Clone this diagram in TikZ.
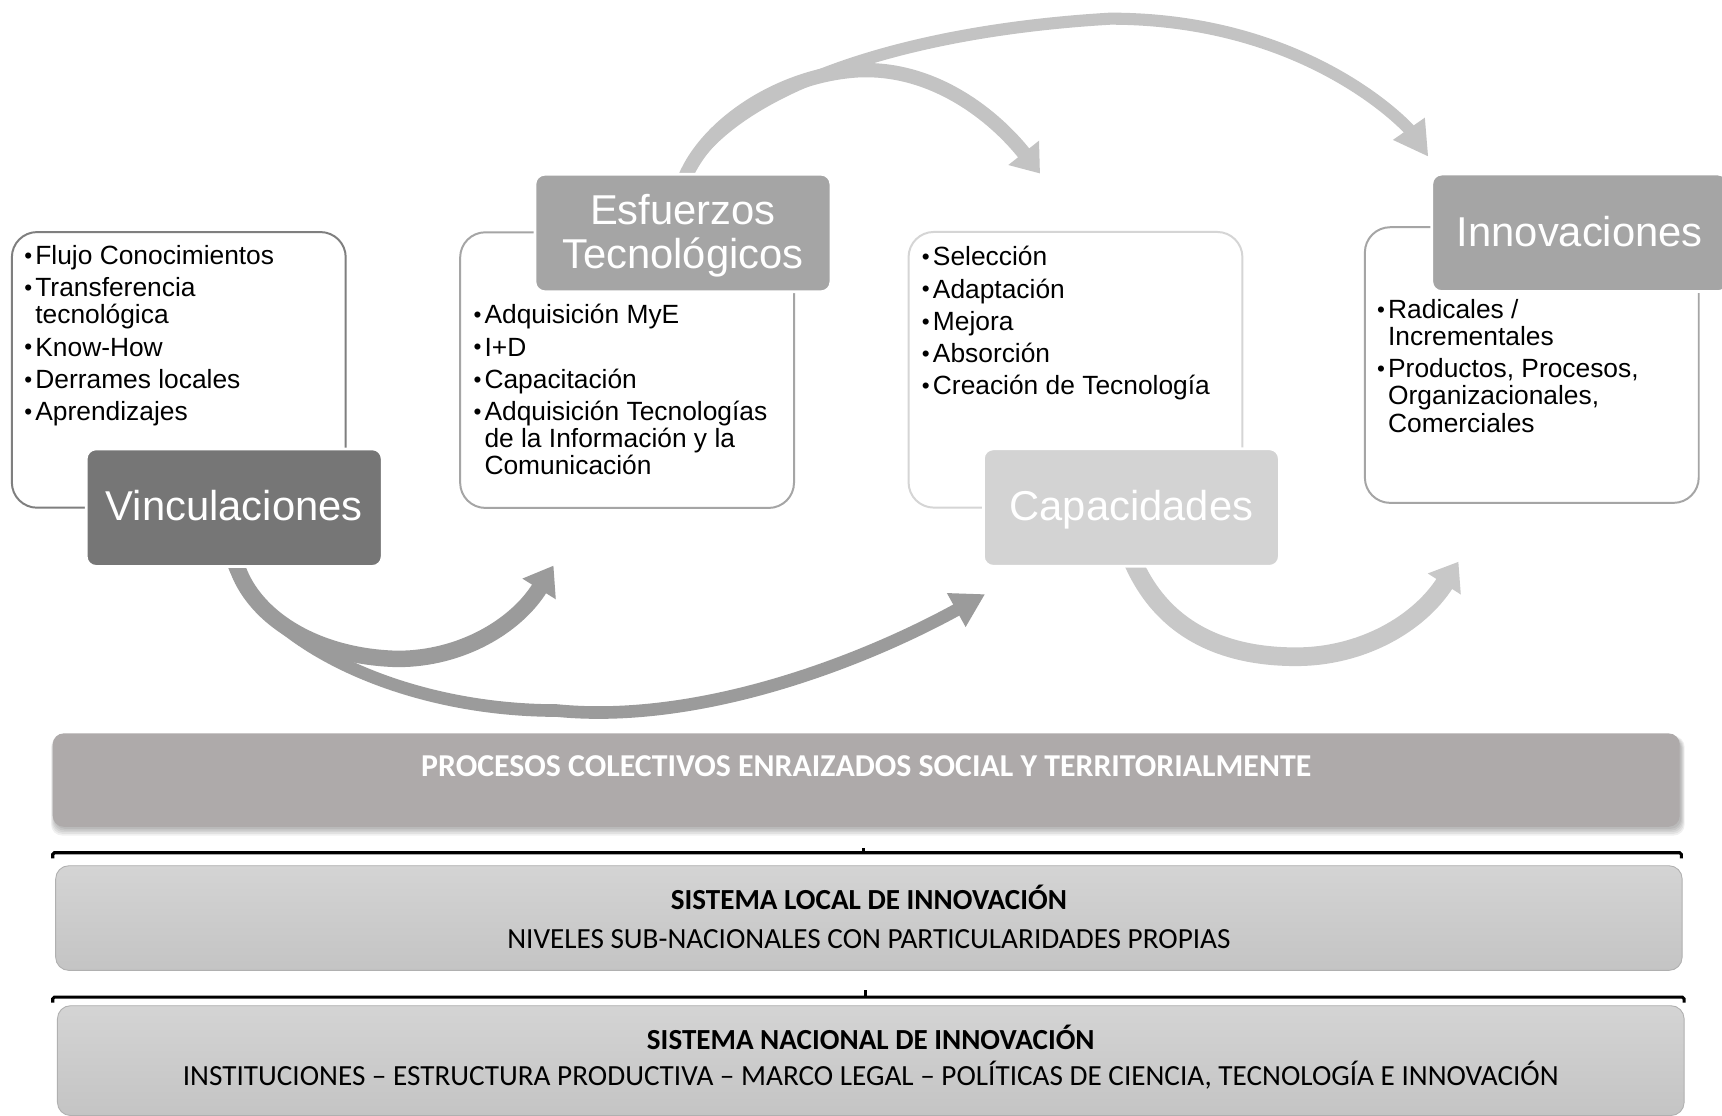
\documentclass[tikz,border=0pt]{standalone}
\usepackage{fontspec}
\setmainfont{Liberation Sans}
\newfontfamily\calibri{Carlito}
\usetikzlibrary{arrows.meta}
\definecolor{vincF}{HTML}{767676}
\definecolor{esfF}{HTML}{A5A5A5}
\definecolor{capF}{HTML}{D3D3D3}
\definecolor{vincL}{HTML}{7F7F7F}
\definecolor{esfL}{HTML}{A5A5A5}
\definecolor{capL}{HTML}{D5D5D5}
\definecolor{arrD}{HTML}{9B9B9B}
\definecolor{arrU}{HTML}{C3C3C3}
\definecolor{arrC}{HTML}{C8C8C8}
\definecolor{procF}{HTML}{AEAAAA}
\definecolor{sysT}{HTML}{D4D4D4}
\definecolor{sysB}{HTML}{C4C4C4}
\definecolor{sysL}{HTML}{B0B0B0}
\newlength\bulw
\setlength\bulw{10.2pt}
\newcommand\nl{\hfil\break}
\newcommand\bli[1]{\par\noindent\hangindent=\bulw\hangafter=1\makebox[\bulw][l]{\hspace{0.2pt}\raisebox{1.0pt}{\fontsize{20.5}{20.5}\selectfont•}}#1}
\newcommand\blist[1]{\parbox[t]{320pt}{\fontsize{24}{24.8}\selectfont\setlength\parskip{4.4pt}\rightskip=0pt plus 1fil\relax #1}}
\begin{document}
\begin{tikzpicture}[x=1pt,y=-1pt,
  outl/.style={draw, line width=1.8pt, fill=white, rounded corners=23pt,
    minimum width=304pt, minimum height=251pt, inner sep=0pt},
  ttlbox/.style={draw=white, line width=2.5pt, rounded corners=9pt,
    minimum width=269.5pt, minimum height=107pt, inner sep=0pt},
  ttl/.style={text=white, font=\fontsize{38}{40.3}\selectfont, inner sep=0pt, anchor=base},
  lst/.style={anchor=base west, inner sep=0pt},
  blk/.style={line width=#1},
  sysbox/.style={draw=sysL, line width=0.8pt, top color=sysT, bottom color=sysB,
    rounded corners=12pt, inner sep=0pt},
  btit/.style={font=\calibri\bfseries\fontsize{26.5}{28}\selectfont, anchor=base, inner sep=0pt},
  bsub/.style={font=\calibri\fontsize{26.6}{28}\selectfont, anchor=base, inner sep=0pt},
  brk/.style={line width=2.8pt, rounded corners=1.5pt}
]
\useasboundingbox[fill=white] (0,0) rectangle (1568,1015.3);

% ---- block arrows (connectors) ----
\coordinate (a1s) at (213,505);   \coordinate (a1e) at (504,515);
\coordinate (a2s) at (210,506);   \coordinate (a2e) at (897,541);
\coordinate (a3s) at (621.7,167); \coordinate (a3e) at (947,158);
\coordinate (a4s) at (621,167);   \coordinate (a4e) at (1300.6,142.7);
\coordinate (a5s) at (1029.4,506);\coordinate (a5e) at (1328,511.5);

\draw[arrD, blk=11.5pt, -{Triangle[width=33pt,length=30pt]}]
  (a2s) .. controls (232,580) and (360,647) .. (507,647)
        .. controls (640,660) and (790,600) .. (a2e);
\draw[arrD, blk=15pt, -{Triangle[width=34pt,length=25pt]}]
  (a1s) .. controls (222,555) and (280,598) .. (362,600)
        .. controls (420,600) and (470,570) .. (a1e);
\draw[arrU, blk=11pt, -{Triangle[width=33pt,length=31pt]}]
  (a4s) .. controls (648,95) and (790,30) .. (1011,17)
        .. controls (1191,17) and (1282,116) .. (a4e);
\draw[arrU, blk=13pt, -{Triangle[width=34pt,length=24pt]}]
  (a3s) .. controls (640,115) and (710,68) .. (782,64)
        .. controls (850,61) and (905,105) .. (a3e);
\draw[arrC, blk=17pt, -{Triangle[width=34pt,length=24pt]}]
  (a5s) .. controls (1058,578) and (1120,598) .. (1180,598)
        .. controls (1240,598) and (1292,568) .. (a5e);

% ---- outline boxes ----
\node[outl, draw=vincL] (vincO) at (162.8,336.8) {};
\node[outl, draw=esfL]  (esfO)  at (571,337) {};
\node[outl, draw=capL]  (capO)  at (979.3,336.7) {};
\node[outl, draw=esfL]  (innO)  at (1394.8,332.4) {};

% ---- title boxes ----
\node[ttlbox, fill=vincF] (vinc) at (213.25,462.25) {};
\node[ttlbox, fill=esfF]  (esf)  at (621.85,212.15) {};
\node[ttlbox, fill=capF]  (cap)  at (1030.2,462.15) {};
\node[ttlbox, fill=esfF]  (inn)  at (1438.5,212) {};

\node[ttl] (vincT) at (213.25,473.5) {Vinculaciones};
\node[ttl] (esfT)  at (621.85,204) {\parbox[t]{265pt}{\centering\fontsize{38}{40.3}\selectfont Esfuerzos\\Tecnológicos}};
\node[ttl] (capT)  at (1030.2,473.5) {Capacidades};
\node[ttl] (innT)  at (1438.5,224.6) {Innovaciones};

% ---- bullet lists ----
\node[lst] (vincL) at (21.8,241) {\blist{%
  \bli{Flujo Conocimientos}
  \bli{Transferencia\nl tecnológica}
  \bli{Know-How}
  \bli{Derrames locales}
  \bli{Aprendizajes}}};
\node[lst] (esfLi) at (430.8,295) {\blist{%
  \bli{Adquisición MyE}
  \bli{I+D}
  \bli{Capacitación}
  \bli{Adquisición Tecnologías\nl de la Información y la\nl Comunicación}}};
\node[lst] (capLi) at (839.1,242.2) {\blist{%
  \bli{Selección}
  \bli{Adaptación}
  \bli{Mejora}
  \bli{Absorción}
  \bli{Creación de Tecnología}}};
\node[lst] (innLi) at (1253.6,289.9) {\blist{%
  \bli{Radicales /\nl Incrementales}
  \bli{Productos, Procesos,\nl Organizacionales,\nl Comerciales}}};

% ---- bottom layers ----
\foreach \e in {0,1.5,3,4.5,6}
  \fill[black, opacity=0.06, rounded corners=10pt]
    ({49.5-\e*0.5},{672-\e*0.3}) rectangle ({1531+\e*0.5},{754.8+\e});
\node[fill=procF, rounded corners=10pt, minimum width=1481.5pt, minimum height=85pt, inner sep=0pt]
  (proc) at (788.75,710.3) {};
\node[font=\calibri\bfseries\fontsize{29}{30}\selectfont, text=white, anchor=base, inner sep=0pt]
  (procT) at (788.75,707) {PROCESOS COLECTIVOS ENRAIZADOS SOCIAL Y TERRITORIALMENTE};

\draw[brk] (48,781.5) -- (48,776.5) -- (1531,776.5) -- (1531,781.5);
\draw[line width=3pt] (786.2,776.5) -- (786.2,772.3);

\node[sysbox, minimum width=1481pt, minimum height=95.3pt] (loc) at (791.2,835.95) {};
\node[btit] (locT) at (791.2,828) {SISTEMA LOCAL DE INNOVACIÓN};
\node[bsub] (locS) at (791.2,863.6) {NIVELES SUB-NACIONALES CON PARTICULARIDADES PROPIAS};

\draw[brk] (48,913) -- (48,908) -- (1533.5,908) -- (1533.5,913);
\draw[line width=3pt] (788.3,908) -- (788.3,901.5);

\node[sysbox, minimum width=1481.2pt, minimum height=100pt] (nac) at (792.9,965.75) {};
\node[btit] (nacT) at (792.9,955.5) {SISTEMA NACIONAL DE INNOVACIÓN};
\node[bsub] (nacS) at (792.9,988.5) {INSTITUCIONES – ESTRUCTURA PRODUCTIVA – MARCO LEGAL – POLÍTICAS DE CIENCIA, TECNOLOGÍA E INNOVACIÓN};
\end{tikzpicture}
\end{document}
